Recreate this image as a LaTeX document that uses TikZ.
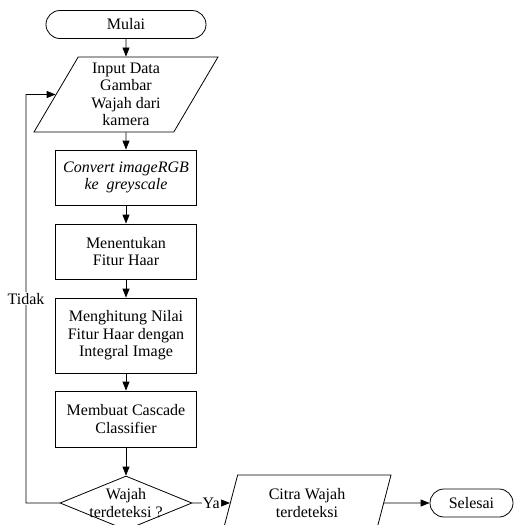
\documentclass[tikz,border=0pt]{standalone}
\usepackage{fontspec}
\setmainfont{Liberation Serif}
\usetikzlibrary{shapes.geometric, shapes.misc, arrows.meta}

\begin{document}
\begin{tikzpicture}
  [
    x=1pt, y=-1pt, line width=0.8pt,
    font=\fontsize{16}{17.5}\selectfont,
    term/.style =
      {draw, rounded rectangle, inner sep=0pt, minimum height=28pt},
    proc/.style =
      {draw, rectangle, align=center, inner sep=0pt, minimum width=141pt},
    io/.style =
      {draw, trapezium, trapezium left angle=60, trapezium right angle=120,
       trapezium stretches body, align=center, inner sep=0pt},
    decide/.style =
      {draw, diamond, inner sep=0pt, minimum width=132pt, minimum height=54pt},
    arr/.style =
      {-{Triangle[length=9pt, width=7pt]}}
  ]
  \useasboundingbox (0, 0) rectangle (514, 525);

  \node [term, minimum width=160pt] at (126, 24.5) (start) {Mulai};
  \node [io, trapezium left angle=55, trapezium right angle=125,
         minimum width=184pt, minimum height=75pt] at (126, 94.5) (inp)
    {Input Data\\Gambar\\Wajah dari\\kamera};
  \node [proc, minimum height=55pt] at (126, 177.5) (conv)
    {\textit{Convert imageRGB}\\\textit{ke\ \ greyscale}};
  \node [proc, minimum height=55pt] at (126, 251.5) (fitur) {Menentukan\\Fitur Haar};
  \node [proc, minimum height=75pt] at (126, 335.5) (hitung)
    {Menghitung Nilai\\Fitur Haar dengan\\Integral Image};
  \node [proc, minimum height=56pt] at (126, 419) (casc) {Membuat Cascade\\Classifier};
  \node [decide, label={[align=center]center:Wajah\\terdeteksi ?}] at (126, 503) (chk) {};
  \node [io, trapezium left angle=63, trapezium right angle=117,
         minimum width=168pt, minimum height=56pt] at (307, 503) (citra)
    {Citra Wajah\\terdeteksi};
  \node [term, minimum width=83pt] at (471.5, 503) (stop) {Selesai};
  \coordinate (back) at (26, 94.5);

  \draw [arr] (start) -- (inp);
  \draw [arr] (inp) -- (conv);
  \draw [arr] (conv) -- (fitur);
  \draw [arr] (fitur) -- (hitung);
  \draw [arr] (hitung) -- (casc);
  \draw [arr] (casc) -- (chk);
  \draw [arr] (chk.west) -| node[pos=0.75, fill=white, inner sep=1pt] {Tidak}
    (back) -- (inp.west);
  \draw [arr] (chk.east) -- node[fill=white, inner sep=1pt] {Ya} (citra.west);
  \draw [arr] (citra.east) -- (stop.west);
\end{tikzpicture}
\end{document}
